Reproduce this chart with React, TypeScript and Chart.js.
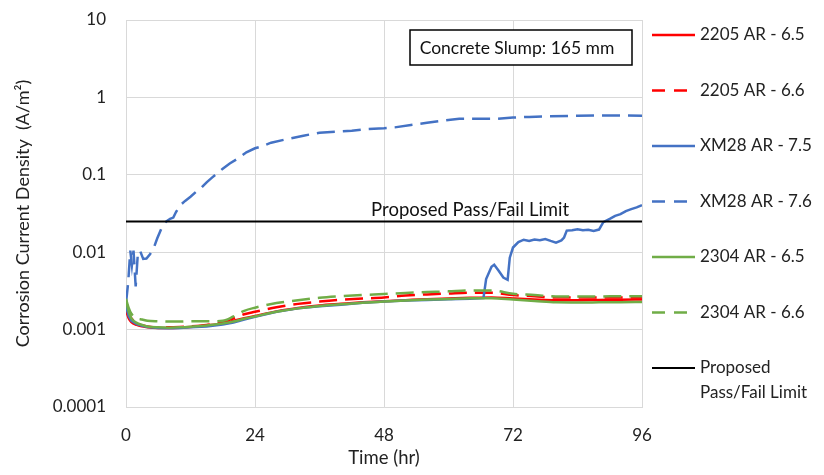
import React, { useEffect, useRef } from "react";
import { Chart, registerables } from "chart.js";

Chart.register(...registerables);

const FONT = "Lato, 'Open Sans', sans-serif";

// Tick labels
const xTicks = [0, 24, 48, 72, 96];
const yTicks = [0.0001, 0.001, 0.01, 0.1, 1, 10];

// Series labels
const seriesLabels = [
  "2205 AR - 6.5",
  "2205 AR - 6.6",
  "XM28 AR - 7.5",
  "XM28 AR - 7.6",
  "2304 AR - 6.5",
  "2304 AR - 6.6",
  "Proposed Pass/Fail Limit",
];

// Shared time base for the smooth series (hr)
const smoothTime = [0, 0.5, 1, 2, 3, 4, 6, 8, 10, 12, 15, 18, 20, 22, 24, 28, 32, 36, 40, 44, 48, 52, 56, 60, 64, 68, 72, 76, 80, 84, 88, 92, 96];

const s2205_65 = [0.0018, 0.0014, 0.00125, 0.00115, 0.0011, 0.00107, 0.00105, 0.00105, 0.00106, 0.00108, 0.00113, 0.0012, 0.0013, 0.0014, 0.0015, 0.00172, 0.0019, 0.00205, 0.00215, 0.00225, 0.00233, 0.0024, 0.00247, 0.00252, 0.00257, 0.0026, 0.00252, 0.00245, 0.0024, 0.0024, 0.00242, 0.00243, 0.00245];
const s2205_66 = [0.0021, 0.0016, 0.0014, 0.0012, 0.00114, 0.0011, 0.00107, 0.00107, 0.00108, 0.0011, 0.00115, 0.00125, 0.0014, 0.00158, 0.0017, 0.00195, 0.00215, 0.0023, 0.00243, 0.00252, 0.0026, 0.00275, 0.00285, 0.00293, 0.003, 0.003, 0.0028, 0.0027, 0.0026, 0.0026, 0.0026, 0.0026, 0.0026];
const s2304_65 = [0.0024, 0.0017, 0.0014, 0.00122, 0.00115, 0.0011, 0.00107, 0.00106, 0.00107, 0.00109, 0.00113, 0.0012, 0.00127, 0.00138, 0.00148, 0.0017, 0.00188, 0.00202, 0.00212, 0.00222, 0.0023, 0.00238, 0.00244, 0.00249, 0.00254, 0.00255, 0.00245, 0.00235, 0.00225, 0.00224, 0.00225, 0.00226, 0.00228];
const s2304_66 = [0.0025, 0.0019, 0.0016, 0.0014, 0.00135, 0.0013, 0.00128, 0.00127, 0.00127, 0.00128, 0.00128, 0.0013, 0.00148, 0.00175, 0.00192, 0.0022, 0.0024, 0.00258, 0.0027, 0.0028, 0.00288, 0.00298, 0.00305, 0.00312, 0.0032, 0.0032, 0.0029, 0.0028, 0.00268, 0.00268, 0.00268, 0.0027, 0.0027];

// XM28 AR - 7.5 (solid blue)
const xm75Time = [0, 0.5, 1, 2, 3, 4, 6, 8, 10, 12, 15, 18, 20, 22, 24, 28, 32, 36, 40, 44, 48, 52, 56, 60, 64, 66.5, 67, 68, 68.5, 69.3, 70.2, 71, 71.4, 72, 73, 74, 75, 76, 77, 78, 79, 80, 81, 81.5, 82, 83, 84, 85, 86, 87, 88, 88.8, 90, 91, 92, 93, 94, 95, 96];
const xm75Values = [0.002, 0.0015, 0.0013, 0.00118, 0.00112, 0.00108, 0.00105, 0.00104, 0.00105, 0.00107, 0.0011, 0.00116, 0.00123, 0.00135, 0.00146, 0.0017, 0.00188, 0.002, 0.0021, 0.00222, 0.0023, 0.00237, 0.00242, 0.00246, 0.0025, 0.00255, 0.0045, 0.0065, 0.0069, 0.0058, 0.0047, 0.0044, 0.0085, 0.0115, 0.0135, 0.0145, 0.014, 0.0146, 0.0143, 0.0148, 0.014, 0.0133, 0.0142, 0.0155, 0.019, 0.0192, 0.0198, 0.0192, 0.0195, 0.0188, 0.0196, 0.0245, 0.027, 0.0295, 0.031, 0.034, 0.036, 0.038, 0.0405];

// XM28 AR - 7.6 (dashed blue)
const xm76Time = [0, 0.4, 0.8, 1.1, 1.4, 1.8, 2.2, 2.6, 3.2, 3.8, 4.5, 5.2, 5.8, 6.8, 7.5, 8.2, 8.8, 9.3, 10, 11, 12, 13, 14, 15, 16, 17, 18, 19.3, 21, 22.4, 24, 25, 27, 30, 33, 36, 39, 42, 45, 48, 50, 53, 56, 59, 62, 66, 69, 72, 75, 78, 84, 90, 96];
const xm76Values = [0.0022, 0.004, 0.0105, 0.0068, 0.0105, 0.0036, 0.0095, 0.0105, 0.0082, 0.0083, 0.0095, 0.0115, 0.015, 0.022, 0.025, 0.027, 0.028, 0.033, 0.04, 0.046, 0.052, 0.06, 0.068, 0.08, 0.092, 0.105, 0.12, 0.14, 0.165, 0.195, 0.22, 0.23, 0.26, 0.29, 0.32, 0.35, 0.36, 0.37, 0.39, 0.4, 0.41, 0.44, 0.47, 0.5, 0.53, 0.53, 0.53, 0.55, 0.56, 0.57, 0.58, 0.585, 0.58];

// Proposed pass/fail limit
const limitTime = [0, 96];
const limitValues = [0.025, 0.025];

const RED = "#ff0000";
const BLUE = "#4472c4";
const GREEN = "#70ad47";
const DASH = [18, 8];

function pts(xs: number[], ys: number[]) {
  return xs.map((x, i) => ({ x, y: ys[i] }));
}

const overlayPlugin = {
  id: "overlay",
  afterDraw(chart: any) {
    const ctx = chart.ctx as CanvasRenderingContext2D;
    const ca = chart.chartArea;
    const xs = chart.scales.x;
    const ys = chart.scales.y;
    ctx.save();
    // Annotation box
    const bx = ca.right - 232;
    const by = ca.top + 10;
    ctx.fillStyle = "#ffffff";
    ctx.fillRect(bx, by, 222, 35);
    ctx.strokeStyle = "#000000";
    ctx.lineWidth = 1.5;
    ctx.strokeRect(bx, by, 222, 35);
    ctx.fillStyle = "#111";
    ctx.font = `17.5px ${FONT}`;
    ctx.textBaseline = "middle";
    ctx.textAlign = "center";
    ctx.fillText("Concrete Slump: 165 mm", bx + 107, by + 18);

    // Pass/fail label
    ctx.textAlign = "left";
    ctx.font = `18.5px ${FONT}`;
    ctx.fillText("Proposed Pass/Fail Limit", xs.getPixelForValue(45.6), ys.getPixelForValue(limitValues[0]) - 11);

    // Legend
    const datasets = chart.data.datasets;
    const lx0 = ca.right + 10;
    const lx1 = ca.right + 53;
    const tx = ca.right + 58;
    datasets.forEach((ds: any, i: number) => {
      const y = 35 + i * 55.5;
      ctx.beginPath();
      ctx.strokeStyle = ds.borderColor;
      ctx.lineWidth = ds.borderWidth;
      ctx.setLineDash(ds.borderDash && ds.borderDash.length ? [13, 9] : []);
      ctx.moveTo(lx0, y);
      ctx.lineTo(lx1, y);
      ctx.stroke();
      ctx.setLineDash([]);
      ctx.fillStyle = "#222";
      ctx.font = `17px ${FONT}`;
      ctx.textAlign = "left";
      ctx.textBaseline = "middle";
      if (ds.label === "Proposed Pass/Fail Limit") {
        ctx.fillText("Proposed", tx, y);
        ctx.fillText("Pass/Fail Limit", tx, y + 24.5);
      } else {
        ctx.fillText(ds.label, tx, y);
      }
    });
    ctx.restore();
  },
};

export default function App() {
  const ref = useRef<HTMLCanvasElement | null>(null);

  useEffect(() => {
    document.body.style.margin = "0";
    if (!ref.current) return;
    const mk = (i: number, data: any[], color: string, dashed: boolean, smooth: boolean, width = 2.5) => ({
      label: seriesLabels[i],
      data,
      borderColor: color,
      backgroundColor: color,
      borderWidth: width,
      borderDash: dashed ? DASH : [],
      pointRadius: 0,
      fill: false,
      tension: smooth ? 0.4 : 0,
      cubicInterpolationMode: smooth ? "monotone" : "default",
      order: 7 - i,
    });
    const chart = new Chart(ref.current, {
      type: "line",
      data: {
        datasets: [
          mk(0, pts(smoothTime, s2205_65), RED, false, true),
          mk(1, pts(smoothTime, s2205_66), RED, true, true),
          mk(2, pts(xm75Time, xm75Values), BLUE, false, false),
          mk(3, pts(xm76Time, xm76Values), BLUE, true, false),
          mk(4, pts(smoothTime, s2304_65), GREEN, false, true),
          mk(5, pts(smoothTime, s2304_66), GREEN, true, true),
          mk(6, pts(limitTime, limitValues), "#000000", false, false, 2),
        ] as any,
      },
      options: {
        responsive: false,
        animation: false,
        devicePixelRatio: 1,
        layout: { padding: { left: 12, top: 20, right: 182, bottom: 0 } },
        plugins: { legend: { display: false }, tooltip: { enabled: false } },
        scales: {
          x: {
            type: "linear",
            min: 0,
            max: 96,
            afterBuildTicks: (s: any) => {
              s.ticks = xTicks.map((v) => ({ value: v }));
            },
            afterFit: (s: any) => {
              s.height = 68;
              s.paddingLeft = 0;
              s.paddingRight = 0;
            },
            grid: { color: "#d9d9d9", lineWidth: 1, drawTicks: false },
            border: { color: "#d9d9d9" },
            ticks: { padding: 18, color: "#222", font: { family: FONT, size: 17 }, maxRotation: 0 },
            title: {
              display: true,
              text: "Time (hr)",
              color: "#222",
              font: { family: FONT, size: 18.5 },
              padding: { top: 0, bottom: 6 },
            },
          },
          y: {
            type: "logarithmic",
            min: 0.0001,
            max: 10,
            afterBuildTicks: (s: any) => {
              s.ticks = yTicks.map((v) => ({ value: v }));
            },
            afterFit: (s: any) => {
              s.width = 114;
              s.paddingTop = 0;
              s.paddingBottom = 0;
            },
            grid: { color: "#d9d9d9", lineWidth: 1, drawTicks: false },
            border: { color: "#d9d9d9" },
            ticks: {
              padding: 20,
              color: "#222",
              font: { family: FONT, size: 17 },
              callback: (v: any) => String(v),
            },
            title: {
              display: true,
              text: "Corrosion Current Density  (A/m²)",
              color: "#222",
              font: { family: FONT, size: 18 },
              padding: { top: 0, bottom: 0 },
            },
          },
        },
      } as any,
      plugins: [overlayPlugin],
    });
    return () => chart.destroy();
  }, []);

  return (
    <div style={{ width: 824, height: 475 }}>
      <canvas ref={ref} width={824} height={475} style={{ display: "block" }} />
    </div>
  );
}
